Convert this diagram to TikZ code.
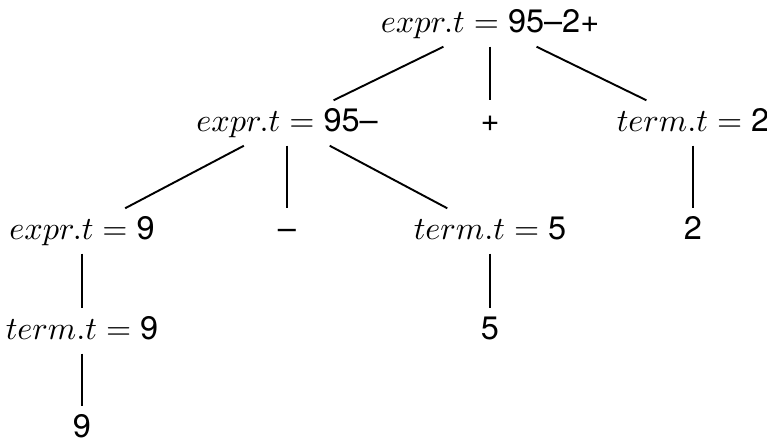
\documentclass[tikz,border=0pt]{standalone}
\usepackage{fontspec}
\setsansfont{TeX Gyre Heros}
\usepackage{tikz}

\begin{document}
\begin{tikzpicture}[
  x=0.0119cm, y=-0.0119cm,
  sym/.style={font=\fontsize{11}{13}\selectfont, inner xsep=2pt, inner ysep=3pt, outer sep=0pt, text height=7.7pt, text depth=1.7pt},
  branch/.style={line width=0.65pt}
]
  \useasboundingbox (0,0) rectangle (767,443);
  \node[sym] (root) at (490,24) {$expr.t = \textsf{95--2+}$};
  \node[sym] (expr95) at (287,123) {$expr.t = \textsf{95--}$};
  \node[sym] (plus) at (490,123) {\textsf{+}};
  \node[sym] (term2) at (693,123) {$term.t = \textsf{2}$};
  \node[sym] (expr9) at (82,231) {$expr.t = \textsf{9}$};
  \node[sym] (minus) at (287,231) {\textsf{--}};
  \node[sym] (term5) at (490,231) {$term.t = \textsf{5}$};
  \node[sym] (two) at (693,231) {\textsf{2}};
  \node[sym] (term9) at (82,331) {$term.t = \textsf{9}$};
  \node[sym] (five) at (490,331) {\textsf{5}};
  \node[sym] (nine) at (82,429) {\textsf{9}};
  \draw[branch] (root) -- (expr95);
  \draw[branch] (root) -- (plus);
  \draw[branch] (root) -- (term2);
  \draw[branch] (expr95) -- (expr9);
  \draw[branch] (expr95) -- (minus);
  \draw[branch] (expr95) -- (term5);
  \draw[branch] (term2) -- (two);
  \draw[branch] (expr9) -- (term9);
  \draw[branch] (term5) -- (five);
  \draw[branch] (term9) -- (nine);
\end{tikzpicture}
\end{document}
